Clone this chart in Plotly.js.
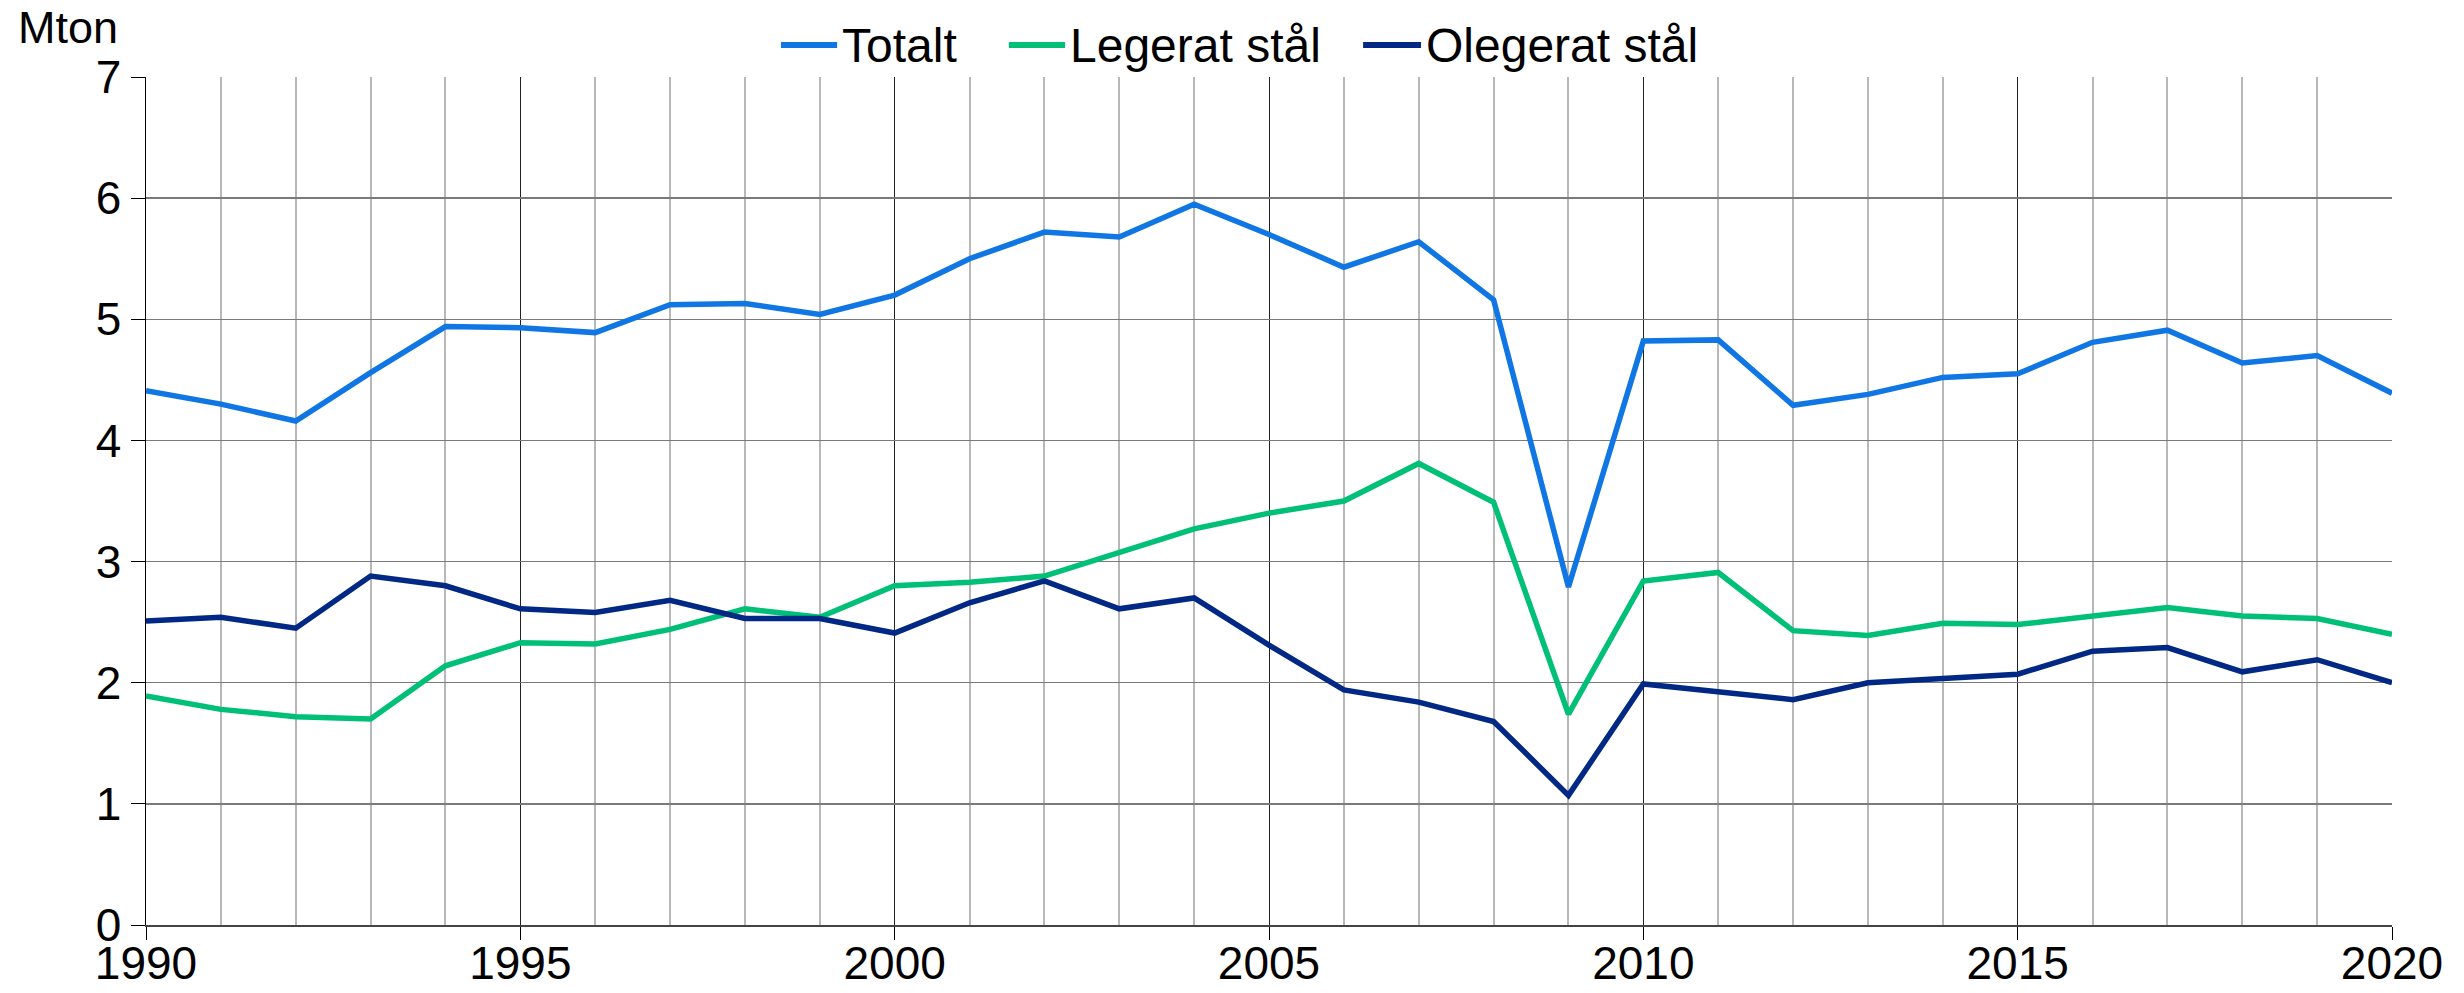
<!DOCTYPE html>
<html>
<head>
<meta charset="utf-8">
<script src="https://cdn.plot.ly/plotly-3.0.1.min.js"></script>
<style>html,body{margin:0;padding:0;background:#fff;}#chart{width:2464px;height:993px;}</style>
</head>
<body>
<div id="chart"></div>
<script>
const years = [];
for (let y = 1990; y <= 2020; y++) years.push(y);

const totalt = [4.41,4.30,4.16,4.56,4.94,4.93,4.89,5.12,5.13,5.04,5.20,5.50,5.72,5.68,5.95,5.70,5.43,5.64,5.16,2.79,4.82,4.83,4.29,4.38,4.52,4.55,4.81,4.91,4.64,4.70,4.39];
const legerat = [1.89,1.78,1.72,1.70,2.14,2.33,2.32,2.44,2.61,2.54,2.80,2.83,2.88,3.07,3.27,3.40,3.50,3.81,3.49,1.74,2.84,2.91,2.43,2.39,2.49,2.48,2.55,2.62,2.55,2.53,2.40];
const olegerat = [2.51,2.54,2.45,2.88,2.80,2.61,2.58,2.68,2.53,2.53,2.41,2.66,2.84,2.61,2.70,2.31,1.94,1.84,1.68,1.07,1.99,1.93,1.86,2.00,2.04,2.07,2.26,2.29,2.09,2.19,2.00];

const seriesNames = ["Totalt", "Legerat stål", "Olegerat stål"];
const colors = ["#0f76e3", "#00bf77", "#002884"];
const FONT = "Liberation Sans, Arial, sans-serif";

const traces = [totalt, legerat, olegerat].map((vals, i) => ({
  x: years, y: vals, type: "scatter", mode: "lines", name: seriesNames[i],
  line: {color: colors[i], width: 5.5}, showlegend: false
}));

// custom legend (paper coords): sample line start/end and text start
const legX = [[0.2827, 0.3077, 0.3090], [0.3842, 0.4092, 0.4105], [0.5419, 0.5677, 0.5690]];
const legY = 1.0377;
const shapes = [], annotations = [];
seriesNames.forEach((n, i) => {
  shapes.push({type: "line", xref: "paper", yref: "paper", x0: legX[i][0], x1: legX[i][1], y0: legY, y1: legY,
               line: {color: colors[i], width: 6}, layer: "above"});
  annotations.push({text: n, xref: "paper", yref: "paper", x: legX[i][2], y: legY, xanchor: "left", yanchor: "middle",
                    showarrow: false, font: {family: FONT, size: 48, color: "#000"}});
});
annotations.push({text: "Mton", xref: "paper", yref: "paper", x: -0.058, y: 1.058, xanchor: "left", yanchor: "middle",
                  showarrow: false, font: {family: FONT, size: 45, color: "#000"}});

const layout = {
  width: 2464, height: 993,
  margin: {l: 146, r: 72, t: 77, b: 68, autoexpand: false},
  paper_bgcolor: "#fff", plot_bgcolor: "#fff",
  font: {family: FONT, size: 46, color: "#000"},
  showlegend: false,
  xaxis: {
    range: [1990, 2020], tickmode: "linear", tick0: 1990, dtick: 5,
    ticks: "outside", ticklen: 13, tickcolor: "#000", tickwidth: 1,
    ticklabelstandoff: -16,
    showgrid: true, gridcolor: "#222", gridwidth: 1,
    showline: true, linecolor: "#444", linewidth: 2,
    zeroline: false, automargin: false,
    tickfont: {family: FONT, size: 46, color: "#000"},
    minor: {tick0: 1990, dtick: 1, showgrid: true, gridcolor: "#b8b8b8", gridwidth: 2, ticks: ""}
  },
  yaxis: {
    range: [0, 7], tickmode: "linear", tick0: 0, dtick: 1,
    ticks: "outside", ticklen: 14, tickcolor: "#000", tickwidth: 1,
    showgrid: true, gridcolor: "#7a7a7a", gridwidth: 1.5,
    showline: true, linecolor: "#000", linewidth: 1.5,
    zeroline: false, automargin: false,
    tickfont: {family: FONT, size: 46, color: "#000"}
  },
  shapes: shapes,
  annotations: annotations
};

Plotly.newPlot("chart", traces, layout, {displayModeBar: false, staticPlot: true});
</script>
</body>
</html>
